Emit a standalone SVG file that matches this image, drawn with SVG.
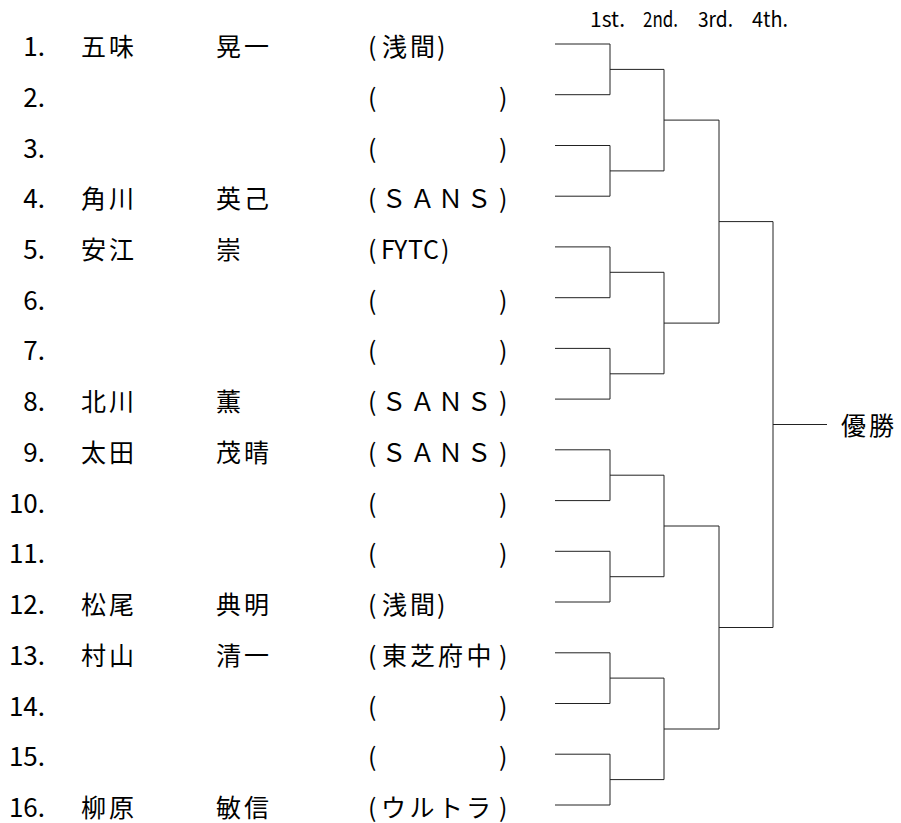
<svg xmlns="http://www.w3.org/2000/svg" width="901" height="823" viewBox="0 0 901 823">
<style>
text{font-family:'Noto Sans CJK JP','Noto Sans CJK SC',sans-serif;font-size:25px;font-weight:400;fill:#000}
.num{text-anchor:end;font-size:26px}
.hd{font-size:21px}
.ln{fill:none;stroke:#222;stroke-width:1}
</style>
<rect width="901" height="823" fill="#fff"/>
<g id="header">
<text class="hd" x="590" y="27" textLength="35" lengthAdjust="spacingAndGlyphs">1st.</text>
<text class="hd" x="643" y="27" textLength="35" lengthAdjust="spacingAndGlyphs">2nd.</text>
<text class="hd" x="698" y="27" textLength="35" lengthAdjust="spacingAndGlyphs">3rd.</text>
<text class="hd" x="752" y="27" textLength="36" lengthAdjust="spacingAndGlyphs">4th.</text>
</g>
<g id="p1"><text class="num" x="45" y="56">1.</text><text x="81 109" y="56">五味</text><text x="216 244" y="56">晃一</text><text x="368 382 410 437" y="56">(浅間)</text></g>
<g id="p2"><text class="num" x="45" y="106.7">2.</text><text y="106.7"><tspan x="368">(</tspan><tspan x="499">)</tspan></text></g>
<g id="p3"><text class="num" x="45" y="157.5">3.</text><text y="157.5"><tspan x="368">(</tspan><tspan x="499">)</tspan></text></g>
<g id="p4"><text class="num" x="45" y="208.2">4.</text><text x="81 109" y="208.2">角川</text><text x="216 244" y="208.2">英己</text><text x="368 381.5 410 438 466.5 499" y="208.2">(ＳＡＮＳ)</text></g>
<g id="p5"><text class="num" x="45" y="258.9">5.</text><text x="81 109" y="258.9">安江</text><text x="216" y="258.9">崇</text><text x="368 381 394 408 423 441" y="258.9">(FYTC)</text></g>
<g id="p6"><text class="num" x="45" y="309.7">6.</text><text y="309.7"><tspan x="368">(</tspan><tspan x="499">)</tspan></text></g>
<g id="p7"><text class="num" x="45" y="360.4">7.</text><text y="360.4"><tspan x="368">(</tspan><tspan x="499">)</tspan></text></g>
<g id="p8"><text class="num" x="45" y="411.1">8.</text><text x="81 109" y="411.1">北川</text><text x="216" y="411.1">薫</text><text x="368 381.5 410 438 466.5 499" y="411.1">(ＳＡＮＳ)</text></g>
<g id="p9"><text class="num" x="45" y="461.8">9.</text><text x="81 109" y="461.8">太田</text><text x="216 244" y="461.8">茂晴</text><text x="368 381.5 410 438 466.5 499" y="461.8">(ＳＡＮＳ)</text></g>
<g id="p10"><text class="num" x="45" y="512.6">10.</text><text y="512.6"><tspan x="368">(</tspan><tspan x="499">)</tspan></text></g>
<g id="p11"><text class="num" x="45" y="563.3">11.</text><text y="563.3"><tspan x="368">(</tspan><tspan x="499">)</tspan></text></g>
<g id="p12"><text class="num" x="45" y="614">12.</text><text x="81 109" y="614">松尾</text><text x="216 244" y="614">典明</text><text x="368 382 410 437" y="614">(浅間)</text></g>
<g id="p13"><text class="num" x="45" y="664.8">13.</text><text x="81 109" y="664.8">村山</text><text x="216 244" y="664.8">清一</text><text x="368 382 410 438 466.5 499" y="664.8">(東芝府中)</text></g>
<g id="p14"><text class="num" x="45" y="715.5">14.</text><text y="715.5"><tspan x="368">(</tspan><tspan x="499">)</tspan></text></g>
<g id="p15"><text class="num" x="45" y="766.2">15.</text><text y="766.2"><tspan x="368">(</tspan><tspan x="499">)</tspan></text></g>
<g id="p16"><text class="num" x="45" y="817">16.</text><text x="81 109" y="817">柳原</text><text x="216 244" y="817">敏信</text><text x="368 381 409.5 438 466 499" y="817">(ウルトラ)</text></g>
<g id="winner"><text x="841 869" y="435">優勝</text></g>
<g id="connectors" class="ln">
<path class="ln" d="M555 44H610V94.7H555M555 145.5H610V196.2H555M555 246.9H610V297.7H555M555 348.4H610V399.1H555M555 449.8H610V500.6H555M555 551.3H610V602H555M555 652.8H610V703.5H555M555 754.2H610V805H555"/>
<path class="ln" d="M610 69.4H664V170.9H610M610 272.3H664V373.8H610M610 475.2H664V576.7H610M610 678.1H664V779.6H610"/>
<path class="ln" d="M664 120.1H719V323.1H664M664 526H719V729H664"/>
<path class="ln" d="M719 221.6H773V627.5H719M773 424.5H827"/>
</g>
</svg>
